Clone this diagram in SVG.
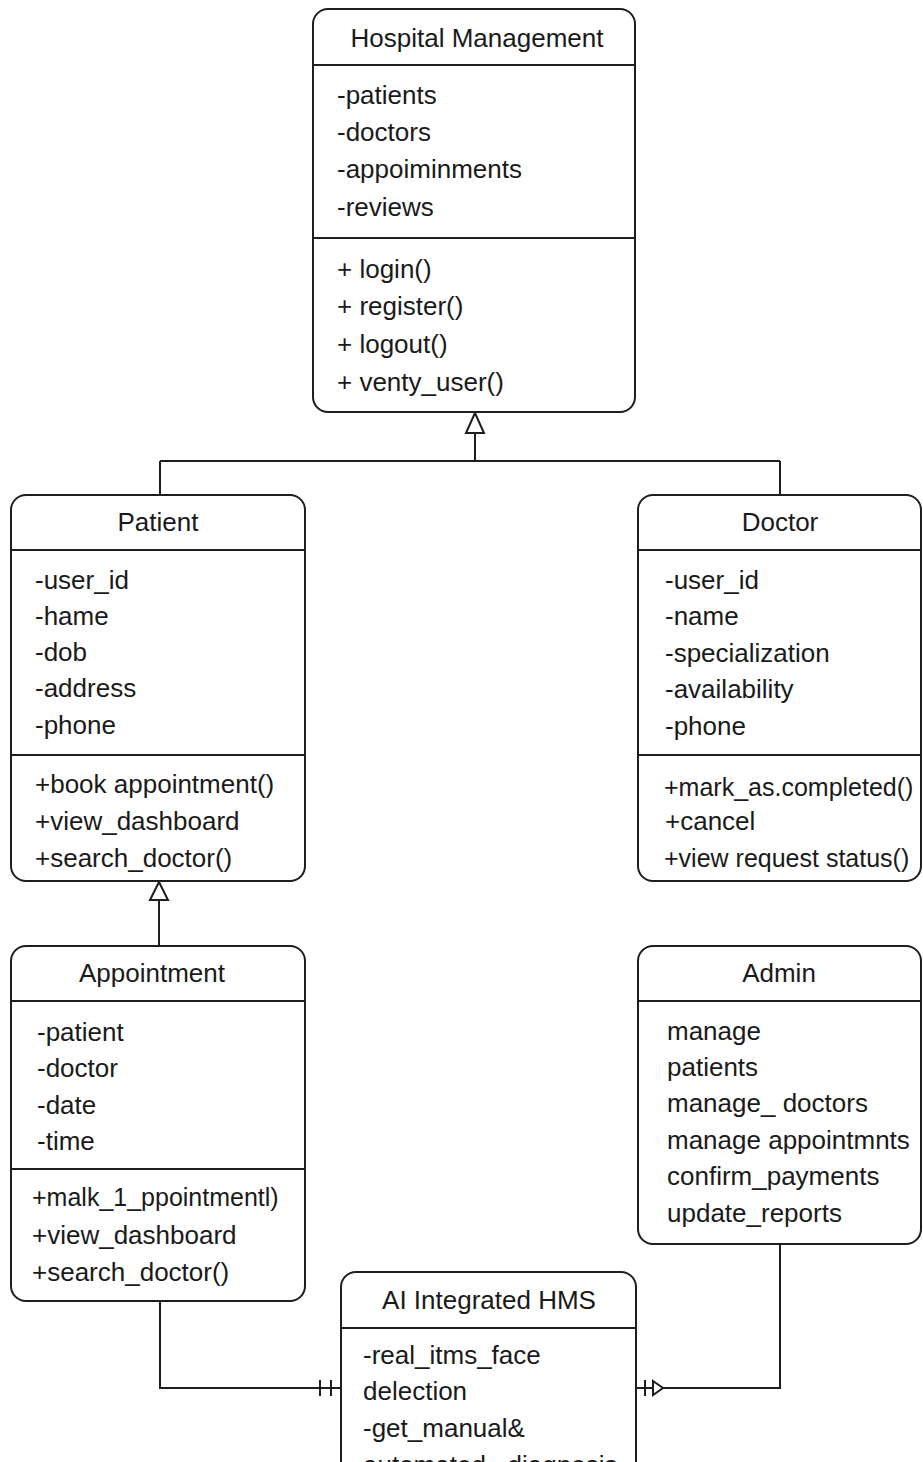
<svg xmlns="http://www.w3.org/2000/svg" width="923" height="1462" viewBox="0 0 923 1462">
<style>
.box{fill:#fff;stroke:#1e1e1e;stroke-width:2}
.div{stroke:#1e1e1e;stroke-width:2}
.t{font-family:"Liberation Sans",Arial,sans-serif;font-size:26px;fill:#1a1a1a}
.s{font-size:25px}
.title{text-anchor:middle}
.con{fill:none;stroke:#1e1e1e;stroke-width:2}
.tri{fill:#fff;stroke:#1e1e1e;stroke-width:2}
</style>
<rect width="923" height="1462" fill="#fff"/>
<g id="connectors">
<path class="con" d="M475 433 V461 M160 461 H780 M160 461 V495 M780 461 V495"/>
<polygon class="tri" points="475,413 466,433 484,433"/>
<path class="con" d="M159 900 V946"/>
<polygon class="tri" points="159,882 150,900 168,900"/>
<path class="con" d="M160 1301 V1388 H341"/>
<path class="con" d="M320 1380 V1396 M331 1380 V1396"/>
<path class="con" d="M780 1244 V1388 H636"/>
<path class="con" d="M645 1380 V1396"/>
<polygon class="tri" points="653,1381 663,1388 653,1395"/>
</g>
<g id="hospital-management">
<rect class="box" x="313" y="9" width="322" height="403" rx="15"/>
<line class="div" x1="313" y1="65" x2="635" y2="65"/>
<line class="div" x1="313" y1="238" x2="635" y2="238"/>
<text class="t title" x="477" y="47">Hospital Management</text>
<text class="t" x="337" y="104">-patients</text>
<text class="t" x="337" y="141">-doctors</text>
<text class="t" x="337" y="178">-appoiminments</text>
<text class="t" x="337" y="216">-reviews</text>
<text class="t" x="337" y="278">+ login()</text>
<text class="t" x="337" y="315">+ register()</text>
<text class="t" x="337" y="353">+ logout()</text>
<text class="t" x="337" y="391">+ venty_user()</text>
</g>
<g id="patient">
<rect class="box" x="11" y="495" width="294" height="386" rx="15"/>
<line class="div" x1="11" y1="550" x2="305" y2="550"/>
<line class="div" x1="11" y1="755" x2="305" y2="755"/>
<text class="t title" x="158" y="531">Patient</text>
<text class="t" x="35" y="589">-user_id</text>
<text class="t" x="35" y="625">-hame</text>
<text class="t" x="35" y="661">-dob</text>
<text class="t" x="35" y="697">-address</text>
<text class="t" x="35" y="734">-phone</text>
<text class="t" x="35" y="793">+book appointment()</text>
<text class="t" x="35" y="830">+view_dashboard</text>
<text class="t" x="35" y="867">+search_doctor()</text>
</g>
<g id="doctor">
<rect class="box" x="638" y="495" width="283" height="386" rx="15"/>
<line class="div" x1="638" y1="550" x2="921" y2="550"/>
<line class="div" x1="638" y1="755" x2="921" y2="755"/>
<text class="t title" x="780" y="531">Doctor</text>
<text class="t" x="665" y="589">-user_id</text>
<text class="t" x="665" y="625">-name</text>
<text class="t" x="665" y="662">-specialization</text>
<text class="t" x="665" y="698">-availability</text>
<text class="t" x="665" y="735">-phone</text>
<text class="t s" x="664" y="796">+mark_as.completed()</text>
<text class="t" x="665" y="830">+cancel</text>
<text class="t s" x="664" y="867">+view request status()</text>
</g>
<g id="appointment">
<rect class="box" x="11" y="946" width="294" height="355" rx="15"/>
<line class="div" x1="11" y1="1001" x2="305" y2="1001"/>
<line class="div" x1="11" y1="1169" x2="305" y2="1169"/>
<text class="t title" x="152" y="982">Appointment</text>
<text class="t" x="37" y="1041">-patient</text>
<text class="t" x="37" y="1077">-doctor</text>
<text class="t" x="37" y="1114">-date</text>
<text class="t" x="37" y="1150">-time</text>
<text class="t s" x="32" y="1206">+malk_1_ppointmentl)</text>
<text class="t" x="32" y="1244">+view_dashboard</text>
<text class="t" x="32" y="1281">+search_doctor()</text>
</g>
<g id="admin">
<rect class="box" x="638" y="946" width="283" height="298" rx="15"/>
<line class="div" x1="638" y1="1001" x2="921" y2="1001"/>
<text class="t title" x="779" y="982">Admin</text>
<text class="t" x="667" y="1040">manage</text>
<text class="t" x="667" y="1076">patients</text>
<text class="t" x="667" y="1112">manage_ doctors</text>
<text class="t" x="667" y="1149">manage appointmnts</text>
<text class="t" x="667" y="1185">confirm_payments</text>
<text class="t" x="667" y="1222">update_reports</text>
</g>
<g id="ai-integrated-hms">
<rect class="box" x="341" y="1272" width="295" height="260" rx="15"/>
<line class="div" x1="341" y1="1328" x2="636" y2="1328"/>
<text class="t title" x="489" y="1309">AI Integrated HMS</text>
<text class="t" x="363" y="1364">-real_itms_face</text>
<text class="t" x="363" y="1400">delection</text>
<text class="t" x="363" y="1437">-get_manual&amp;</text>
<text class="t" x="363" y="1474">automated_ diagnosis</text>
</g>
</svg>
